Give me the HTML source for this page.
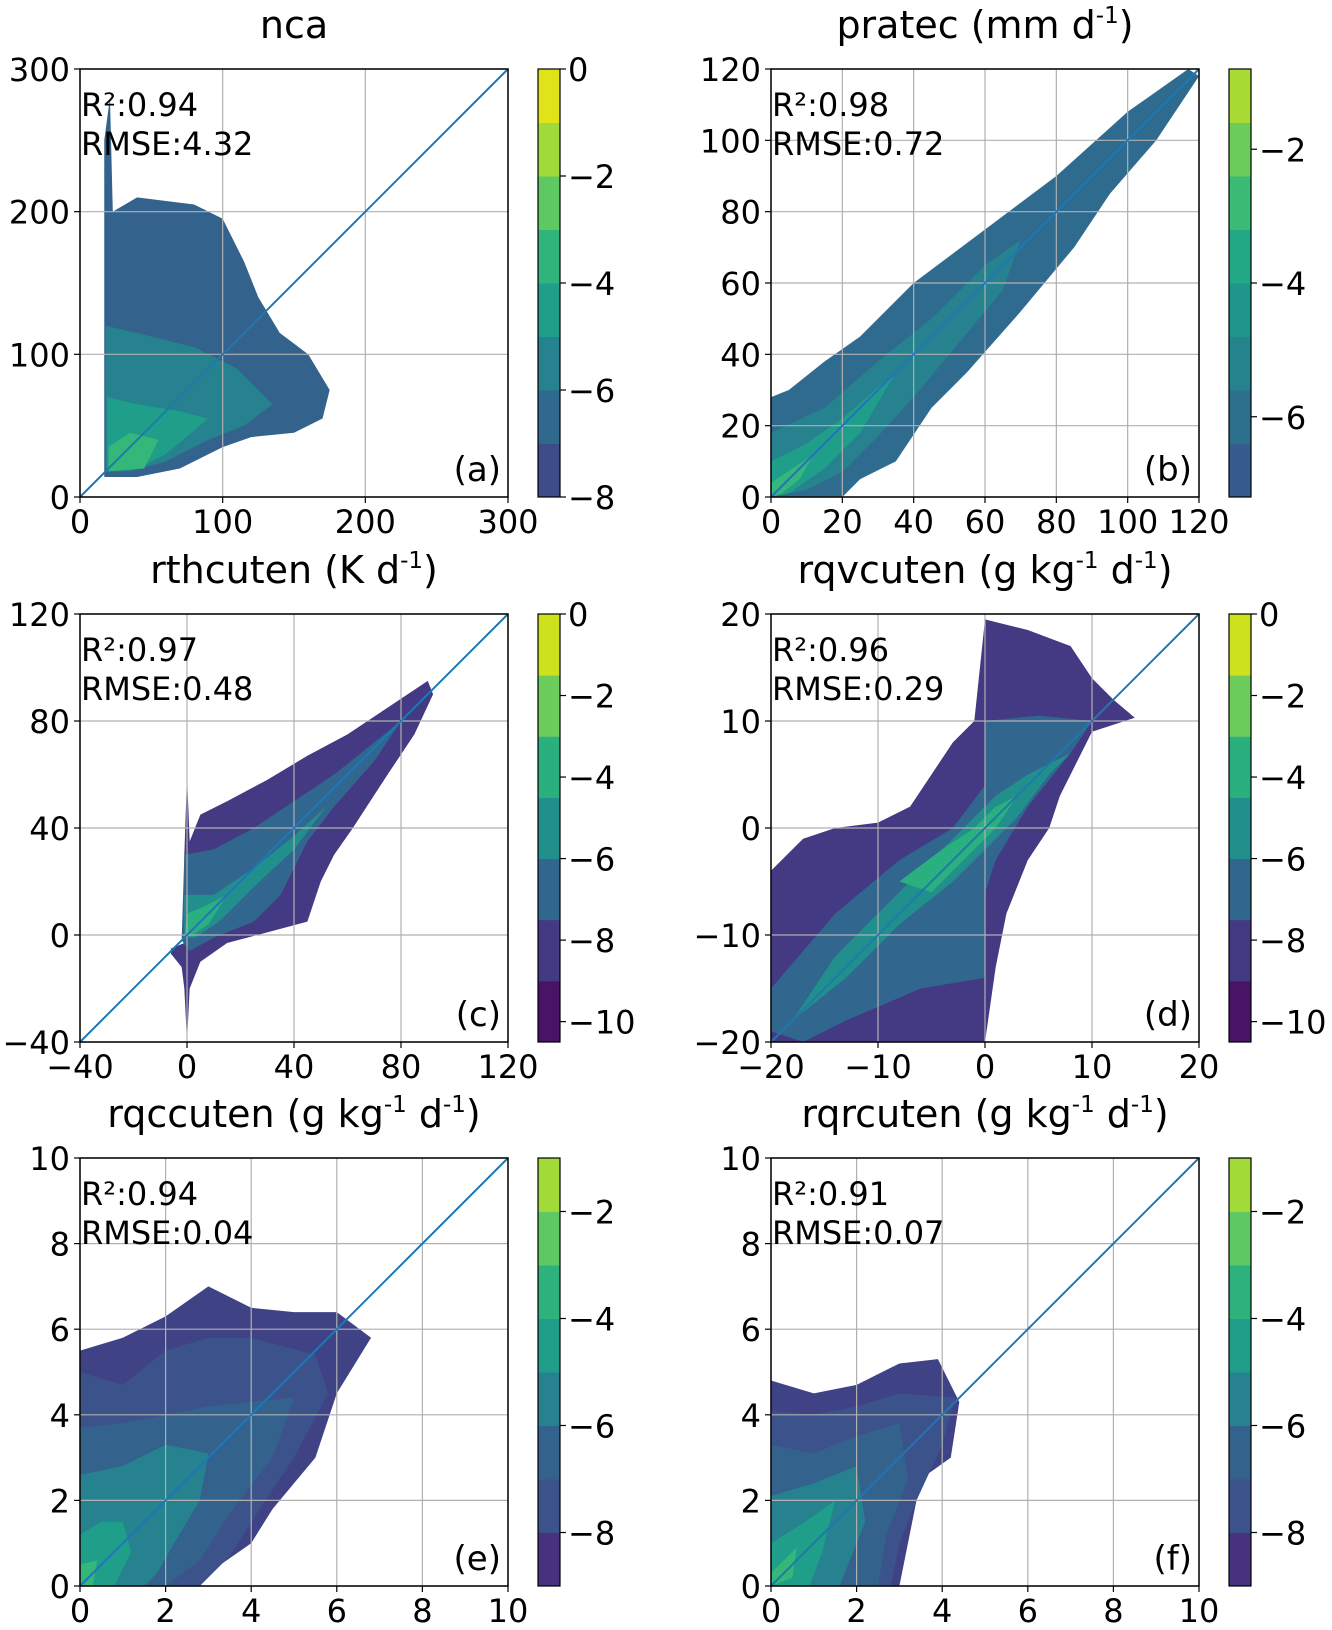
<!DOCTYPE html>
<html><head><meta charset="utf-8"><style>
body{margin:0;background:#fff;}
svg text{font-family:"DejaVu Sans","Liberation Sans",sans-serif;fill:#000;}
</style></head><body>
<svg id="fig" width="1332" height="1625" viewBox="0 0 1332 1625" xmlns="http://www.w3.org/2000/svg"></svg>
<script>
const NS="http://www.w3.org/2000/svg";
const fig=document.getElementById('fig');
// ---- data ----
const titles=["nca","pratec","rthcuten","rqvcuten","rqccuten","rqrcuten"];
const units=["", "(mm d<sup>-1</sup>)","(K d<sup>-1</sup>)","(g kg<sup>-1</sup> d<sup>-1</sup>)","(g kg<sup>-1</sup> d<sup>-1</sup>)","(g kg<sup>-1</sup> d<sup>-1</sup>)"];
const panelLetters=["(a)","(b)","(c)","(d)","(e)","(f)"];
const r2Values=["0.94","0.98","0.97","0.96","0.94","0.91"];
const rmseValues=["4.32","0.72","0.48","0.29","0.04","0.07"];
const axisMin=[0,0,-40,-20,0,0];
const axisMax=[300,120,120,20,10,10];
const axisTicks=[[0,100,200,300],[0,20,40,60,80,100,120],[-40,0,40,80,120],[-20,-10,0,10,20],[0,2,4,6,8,10],[0,2,4,6,8,10]];
// density contour polygons (data coords), outer -> inner
const polysA=[[[17,14],[17,250],[21,280],[23,200],[40,210],[80,205],[100,195],[115,165],[125,140],[140,115],[160,100],[175,75],[170,55],[150,45],[120,42],[100,35],[70,20],[40,14]],
 [[18,18],[18,120],[40,115],[80,105],[110,90],[135,65],[115,50],[90,40],[60,25],[35,18]],
 [[19,18],[19,70],[40,65],[70,60],[90,55],[60,30],[40,20]],
 [[20,18],[20,35],[35,45],[55,40],[45,20]]];
const polysB=[[[0,0],[0,28],[5,30],[15,38],[25,45],[40,60],[60,75],[80,90],[100,108],[117,120],[120,118],[108,100],[95,85],[85,70],[70,52],[55,35],[45,25],[35,10],[25,5],[20,0]],
 [[0,0],[0,18],[15,25],[30,38],[45,50],[60,65],[70,72],[65,58],[50,40],[40,28],[30,17],[20,7],[10,2]],
 [[0,0],[0,10],[10,15],[20,22],[35,35],[25,18],[15,8],[5,1]],
 [[0,0],[0,4],[6,8],[12,12],[8,5],[3,1]]];
const polysC=[[[-6,-5],[-1,-3],[-1,30],[0,60],[1,35],[5,45],[15,50],[30,58],[45,67],[60,75],[75,85],[90,95],[92,90],[85,75],[75,60],[62,40],[55,30],[50,20],[45,5],[30,1],[15,-3],[5,-10],[1,-20],[0,-40],[-1,-20],[-2,-12],[-6,-7]],
 [[-2,-2],[-1,30],[10,32],[25,40],[40,50],[55,60],[70,72],[80,80],[70,65],[55,48],[45,35],[35,15],[25,5],[10,-1],[1,-6]],
 [[-1,-1],[-1,15],[10,15],[25,25],[40,37],[52,48],[40,32],[25,18],[12,5],[3,-1]],
 [[-1,-1],[0,8],[5,10],[15,15],[8,4],[2,0]]];
const polysD=[[[-20,-20],[-20,-4],[-17,-1],[-14,0],[-10,0.5],[-7,2],[-5,5],[-3,8],[-1,10],[0,19.5],[4,18.5],[8,17],[10,14],[12,12],[14,10.3],[10,9],[9,7],[7,3],[6,0],[4,-3],[2,-8],[1,-13],[0,-20]],
 [[-20,-19],[-20,-15],[-14,-8],[-8,-3],[-3,0],[0,4],[0,10],[5,10.5],[10,10],[8,7],[4,2],[1,-3],[0,-6],[0,-14],[-6,-15],[-13,-18],[-17,-20]],
 [[-18,-18],[-14,-12],[-9,-7],[-4,-2],[-1,1],[1,3],[4,5],[8,7],[6,5],[3,1],[0,-2],[-3,-5],[-8,-9],[-13,-14]],
 [[-8,-5],[-4,-2],[-1,0],[1,2],[3,3],[1,0],[-1,-2],[-5,-6]]];
const polysE=[[[0,0],[0,5.5],[1,5.8],[2,6.3],[3,7],[4,6.5],[5,6.4],[6,6.4],[6.8,5.8],[6,4.5],[5.5,3],[4.5,1.8],[4,1],[3,0.3],[2.5,0]],
 [[0,0],[0,5],[1,4.7],[2,5.5],[3,5.8],[4,5.8],[5.5,5.4],[5.8,4.5],[5,3],[4.2,1.8],[3.5,0.7],[2.8,0]],
 [[0,0],[0,3.7],[1,3.8],[2,4],[3,4.2],[4,4.3],[5,4.4],[4.5,3],[3.5,1.7],[2.8,0.6],[2,0]],
 [[0,0],[0,2.6],[1,2.8],[2,3.3],[3,3.1],[2.8,2],[2.2,1],[1.8,0.3],[1.5,0]],
 [[0,0],[0,1.2],[0.5,1.5],[1,1.5],[1.2,0.8],[0.8,0]],
 [[0,0],[0,0.5],[0.4,0.6],[0.3,0]]];
const polysF=[[[0,0],[0,4.8],[1,4.5],[2,4.7],[3,5.2],[3.9,5.3],[4.4,4.3],[4.2,3],[3.5,2.5],[3.2,1],[3,0]],
 [[0,0],[0,4.1],[1,4],[2,4.2],[3,4.5],[4.3,4.4],[4,3.3],[3.4,2],[3,1],[2.8,0]],
 [[0,0],[0,3.3],[1,3.1],[2,3.5],[3,3.8],[3.2,2.5],[2.7,1.2],[2.5,0]],
 [[0,0],[0,2.1],[1,2.4],[2,2.8],[2.2,1.5],[1.8,0.5],[1.6,0]],
 [[0,0],[0,1.0],[0.8,1.5],[1.5,2],[1.2,0.8],[0.9,0]],
 [[0,0],[0,0.3],[0.6,0.9],[0.5,0.2]]];
const panelPolys=[polysA,polysB,polysC,polysD,polysE,polysF];
const polyColors=[["#33638d","#26828e","#1f9e89","#35b779"],["#2f6b8e","#26828e","#1f9e89","#35b779"],["#443983","#31678e","#21908d","#2ab07f"],["#443983","#31678e","#21908d","#2ab07f"],["#404286","#3b528b","#33638d","#26828e","#1f9e89","#35b779"],["#404286","#3b528b","#33638d","#26828e","#1f9e89","#35b779"]];
// colorbars
const cbMin=[-8,-7.2,-10.5,-10.5,-9,-9];
const cbMax=[0,-0.8,0,0,-1,-1];
const cbTicks=[[0,-2,-4,-6,-8],[-2,-4,-6],[0,-2,-4,-6,-8,-10],[0,-2,-4,-6,-8,-10],[-2,-4,-6,-8],[-2,-4,-6,-8]];
const cbColors=[["#3e4c8a","#30698e","#26828e","#1f9e89","#2fb47c","#5ec962","#9fda3a","#dfe318"],
 ["#365c8d","#2d708e","#25838e","#1f968b","#22a884","#3bbb75","#6ccd5a","#a8db34"],
 ["#481468","#443983","#31678e","#21908d","#2ab07f","#6ccd5a","#cde11d"],
 ["#481468","#443983","#31678e","#21908d","#2ab07f","#6ccd5a","#cde11d"],
 ["#46327e","#3b528b","#33638d","#26828e","#1f9e89","#2db27d","#5ec962","#a2da37"],
 ["#46327e","#3b528b","#33638d","#26828e","#1f9e89","#2db27d","#5ec962","#a2da37"]];
// ---- layout ----
const colX=[80,771], rowY=[69,614,1158], W=428, H=428;
function el(tag,attrs,parent){const e=document.createElementNS(NS,tag);for(const k in attrs)e.setAttribute(k,attrs[k]);(parent||fig).appendChild(e);return e;}
for(let p=0;p<6;p++){
  const x0=colX[p%2], y0=rowY[Math.floor(p/2)];
  const mn=axisMin[p], mx=axisMax[p];
  const sx=v=>x0+(v-mn)/(mx-mn)*W, sy=v=>y0+H-(v-mn)/(mx-mn)*H;
  const g=el('g',{});
  
  
  const clipId='clip'+p;
  const cp=el('clipPath',{id:clipId},g);el('rect',{x:x0,y:y0,width:W,height:H},cp);
  const dg=el('g',{'clip-path':'url(#'+clipId+')'},g);
  panelPolys[p].forEach((poly,i)=>{
    const pe=el('polygon',{points:poly.map(q=>sx(q[0])+','+sy(q[1])).join(' '),fill:polyColors[p][i]},dg);
    
    
  });
  axisTicks[p].forEach(t=>{
    el('line',{x1:sx(t),x2:sx(t),y1:y0,y2:y0+H,stroke:'#b0b0b0','stroke-width':1.2},g);
    el('line',{x1:x0,x2:x0+W,y1:sy(t),y2:sy(t),stroke:'#b0b0b0','stroke-width':1.2},g);
    el('line',{x1:sx(t),x2:sx(t),y1:y0+H,y2:y0+H+6,stroke:'#000','stroke-width':1.2},g);
    el('line',{x1:x0-6,x2:x0,y1:sy(t),y2:sy(t),stroke:'#000','stroke-width':1.2},g);
    const tx=el('text',{x:sx(t),y:y0+H+36,'font-size':32,'text-anchor':'middle'},g);tx.textContent=String(t).replace('-','\u2212');
    
    const ty=el('text',{x:x0-10,y:sy(t)+12,'font-size':32,'text-anchor':'end'},g);ty.textContent=String(t).replace('-','\u2212');
    
  });
  const dl=el('line',{x1:sx(mn),y1:sy(mn),x2:sx(mx),y2:sy(mx),stroke:'#1f77b4','stroke-width':2},g);
  
  el('rect',{x:x0,y:y0,width:W,height:H,fill:'none',stroke:'#000','stroke-width':1.5},g);
  const a1=el('text',{x:x0+1,y:y0+47,'font-size':32},g);a1.textContent='R\u00b2:'+r2Values[p];
  
  const a2=el('text',{x:x0+1,y:y0+86,'font-size':32},g);a2.textContent='RMSE:'+rmseValues[p];
  
  const lt=el('text',{x:x0+W-7,y:y0+H-16,'font-size':34,'text-anchor':'end'},g);lt.textContent=panelLetters[p];
  
  const tt=el('text',{x:x0+W/2,y:y0-31,'font-size':38,'text-anchor':'middle'},g);
  
  tt.appendChild(document.createTextNode(titles[p]+(units[p]?' ':'')));
  if(units[p]){
    const parts=units[p].split(/<sup>|<\/sup>/);
    parts.forEach((s,i)=>{const ts=el('tspan',{},tt);ts.textContent=s;if(i%2===1){ts.setAttribute('dy',-15);ts.setAttribute('font-size',23);}else if(i>0){ts.setAttribute('dy',15);}});
  }
  // colorbar
  const cx=x0+458, cw=22;
  const cg=el('g',{},g);
  
  const cmn=cbMin[p], cmx=cbMax[p], n=cbColors[p].length;
  const cy=v=>y0+H-(v-cmn)/(cmx-cmn)*H;
  cbColors[p].forEach((c,i)=>{
    const bh=H/n;
    el('rect',{x:cx,y:y0+H-(i+1)*bh,width:cw,height:bh+0.5,fill:c},cg);
  });
  el('rect',{x:cx,y:y0,width:cw,height:H,fill:'none',stroke:'#000','stroke-width':1.2},cg);
  cbTicks[p].forEach(t=>{
    el('line',{x1:cx+cw,x2:cx+cw+6,y1:cy(t),y2:cy(t),stroke:'#000','stroke-width':1.2},cg);
    const ct=el('text',{x:cx+cw+8,y:cy(t)+12,'font-size':32},cg);ct.textContent=String(t).replace('-','\u2212');
    
  });
}
</script>
</body></html>
